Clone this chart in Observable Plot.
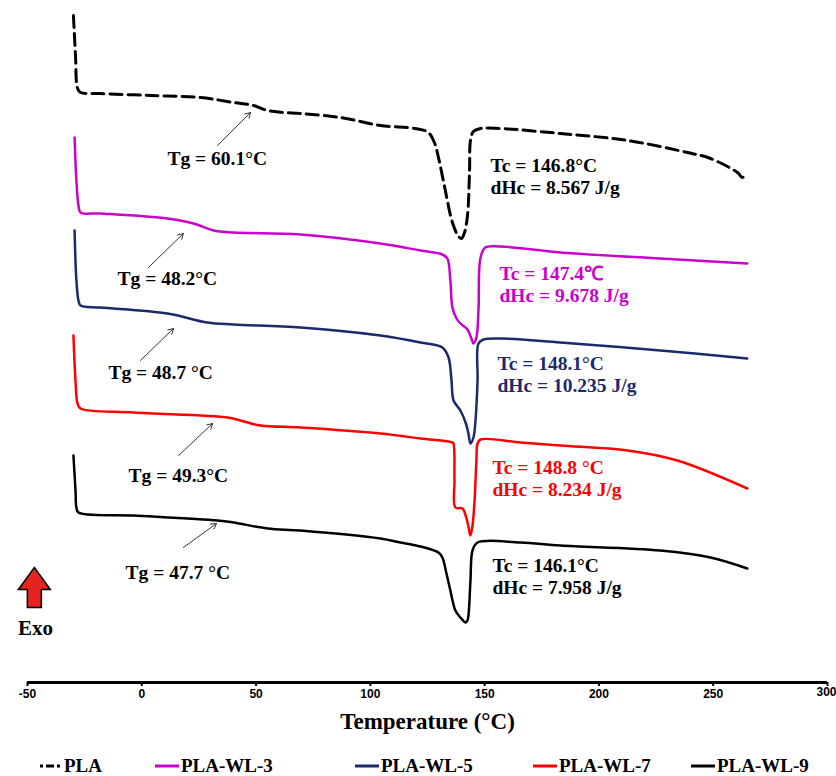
<!DOCTYPE html>
<html><head><meta charset="utf-8">
<script src="https://cdn.jsdelivr.net/npm/d3@7"></script>
<script src="https://cdn.jsdelivr.net/npm/@observablehq/plot@0.6"></script>
<style>
body{margin:0;background:#fff;}
#wrap{position:relative;width:836px;height:776px;overflow:hidden;background:#fff;}
#legend{position:absolute;top:756px;left:0;width:836px;height:20px;font:bold 19px "Liberation Serif",serif;color:#000;}
.item{position:absolute;top:0;display:flex;align-items:center;height:20px;white-space:nowrap;}
.item svg{display:block;margin-right:2px;}
</style></head>
<body><div id="wrap"><div id="chart"></div><div id="legend"></div></div>
<script>
// ---- data (Temperature °C, heat flow a.u.) ----
const seriesNames = ["PLA", "PLA-WL-3", "PLA-WL-5", "PLA-WL-7", "PLA-WL-9"];
const xTicks = [-50, 0, 50, 100, 150, 200, 250, 300];

const PLA = [[-29.9,66.7],[-29.0,62.7],[-28.1,59.4],[-26.8,59.0],[-18.1,58.9],[3.8,58.7],[25.7,58.5],[40.1,58.0],[48.9,57.7],[55.0,57.2],[62.0,57.0],[69.4,56.9],[86.9,56.5],[104.4,55.7],[119.7,55.4],[125.4,55.0],[128.0,54.0],[129.8,52.5],[132.8,49.2],[135.9,46.0],[138.6,44.6],[139.9,44.4],[141.2,45.0],[142.5,46.7],[143.4,51.2],[143.8,54.2],[145.1,55.1],[148.2,55.4],[156.9,55.4],[183.1,54.9],[212.5,54.2],[238.7,53.0],[248.8,52.4],[260.6,51.0],[262.8,50.5],[264.1,50.8],[265.0,50.9]];
const WL3 = [[-29.4,54.5],[-28.6,50.2],[-27.7,47.7],[-26.8,47.0],[-18.1,46.9],[11.2,46.4],[22.6,45.9],[31.4,45.2],[40.1,45.0],[69.4,44.8],[104.4,43.9],[121.9,43.2],[131.5,42.8],[133.7,42.4],[135.0,40.2],[135.9,37.5],[137.7,36.4],[139.4,35.9],[142.5,35.3],[144.2,34.4],[145.1,33.9],[146.4,34.5],[147.3,37.2],[148.2,42.5],[150.3,43.5],[156.9,43.6],[183.1,43.0],[226.9,42.4],[264.9,41.9]];
const WL5 = [[-29.4,45.2],[-28.6,40.2],[-27.7,38.2],[-26.8,37.7],[-18.1,37.5],[11.2,36.9],[28.7,36.0],[40.1,35.8],[69.4,35.5],[104.4,34.7],[121.9,34.0],[131.5,33.5],[134.2,32.5],[135.5,30.2],[136.4,28.2],[139.4,27.2],[141.8,25.9],[142.9,24.9],[143.8,23.9],[145.1,24.5],[146.0,26.2],[146.9,30.2],[147.3,33.9],[149.5,34.3],[156.9,34.4],[183.1,34.0],[226.9,33.2],[264.9,32.4]];
const WL7 = [[-29.9,34.7],[-29.0,30.2],[-28.1,27.9],[-26.8,27.4],[-3.6,27.0],[37.5,26.5],[43.2,26.2],[51.9,25.7],[69.4,25.5],[104.4,24.9],[121.9,24.4],[135.9,24.0],[136.4,23.9],[136.8,20.2],[137.2,17.5],[140.3,17.4],[141.7,16.7],[143.0,15.5],[143.8,14.7],[144.7,15.7],[145.6,18.2],[146.4,22.2],[146.9,23.9],[148.2,24.3],[165.7,24.0],[183.1,23.7],[212.5,23.2],[234.3,22.2],[264.9,19.4]];
const WL9 = [[-29.9,22.7],[-29.0,19.2],[-28.6,17.5],[-27.7,17.0],[-3.6,16.7],[33.1,16.2],[40.1,16.0],[55.0,15.4],[69.4,15.2],[104.4,14.4],[113.2,14.0],[121.9,13.6],[129.8,13.0],[131.5,12.5],[133.3,10.9],[135.0,9.2],[137.2,7.2],[139.4,6.5],[141.7,6.0],[142.5,6.2],[143.0,6.9],[143.8,10.2],[144.7,13.2],[146.9,14.0],[165.7,14.0],[183.1,13.7],[226.9,13.2],[248.8,12.5],[264.9,11.4]];

const tgValues = [60.1, 48.2, 48.7, 49.3, 47.7];
const tcValues = [146.8, 147.4, 148.1, 148.8, 146.1];
const dHcValues = [8.567, 9.678, 10.235, 8.234, 7.958];

// ---- styles & annotation placement (data space) ----
const seriesColors = ["#000000", "#CC00CC", "#1B2A6B", "#FF0000", "#000000"];
const tgUnit = ["°C", "°C", " °C", "°C", " °C"];
const tcUnit = ["°C", "℃", "°C", " °C", "°C"];
const tgLabelAt = [[11.2,52.4],[-10.6,40.4],[-14.6,31.0],[-5.8,20.7],[-7.1,11.0]];
const tgArrowAt = [[33.1,53.7,47.6,57.0],[2.9,41.5,18.2,44.9],[-0.6,32.2,13.9,35.4],[16.1,22.7,31.0,25.9],[18.2,13.5,32.7,15.9]];
const tcLabelAt = [[152.6,51.7],[156.5,40.9],[155.6,31.9],[153.4,21.5],[153.4,11.7]];
const lineGap = 2.2;

const allSeries = [PLA, WL3, WL5, WL7, WL9];

const serif = "'Liberation Serif','Times New Roman',serif";
const tickFont = "'Liberation Sans Narrow','Liberation Sans',sans-serif";

const tgRows = tgValues.map((v,i)=>({x: tgLabelAt[i][0], y: tgLabelAt[i][1], text: `Tg = ${v.toFixed(1)}${tgUnit[i]}`}));
const tgArrows = tgArrowAt.map(a=>({x1:a[0],y1:a[1],x2:a[2],y2:a[3]}));
const tcRows = [];
tcValues.forEach((v,i)=>{
  tcRows.push({x: tcLabelAt[i][0], y: tcLabelAt[i][1], text: `Tc = ${v.toFixed(1)}${tcUnit[i]}`, c: seriesColors[i]});
  tcRows.push({x: tcLabelAt[i][0], y: tcLabelAt[i][1]-lineGap, text: `dHc = ${dHcValues[i]} J/g`, c: seriesColors[i]});
});

const blockArrow = {
  draw(context, size){
    const r = Math.sqrt(size/Math.PI);
    context.moveTo(0,-r);
    context.lineTo(0.8*r,0.1*r);
    context.lineTo(0.35*r,0.1*r);
    context.lineTo(0.35*r,r);
    context.lineTo(-0.35*r,r);
    context.lineTo(-0.35*r,0.1*r);
    context.lineTo(-0.8*r,0.1*r);
    context.closePath();
  }
};

const lineMarks = allSeries.map((s,i)=>Plot.line(s, {
  x: d=>d[0], y: d=>d[1], stroke: seriesColors[i],
  strokeWidth: i===0 ? 3 : 2.5,
  strokeDasharray: i===0 ? "12,6" : null,
  curve: "catmull-rom"
}));

const lastTick = xTicks[xTicks.length - 1];

const chart = Plot.plot({
  width: 836, height: 750,
  marginLeft: 27, marginRight: 9, marginTop: 0, marginBottom: 68,
  x: {domain: [-50, 300]},
  y: {domain: [0, 68.2], axis: null},
  color: {type: "identity"},
  style: {fontFamily: tickFont, fontSize: "12px", color: "#000", background: "#fff", overflow: "visible"},
  marks: [
    Plot.axisX(xTicks, {tickSize: 4, tickPadding: 3, label: null, fontWeight: "bold", fontSize: 12, strokeWidth: 2, tickFormat: d => d === lastTick ? "" : String(d)}),
    Plot.text([lastTick], {x: d => d, frameAnchor: "bottom", dy: 13, dx: 9, textAnchor: "end", fill: "#000", fontFamily: tickFont, fontWeight: "bold", fontSize: 12}),
    Plot.ruleY([0], {stroke: "#000", strokeWidth: 3}),
    ...lineMarks,
    Plot.arrow(tgArrows, {x1:"x1", y1:"y1", x2:"x2", y2:"y2", stroke:"#333", strokeWidth: 1, headLength: 9}),
    Plot.text(tgRows, {x:"x", y:"y", text:"text", textAnchor:"start", fill:"#000", fontFamily: serif, fontWeight:"bold", fontSize: 19.5}),
    Plot.text(tcRows, {x:"x", y:"y", text:"text", textAnchor:"start", fill:"c", fontFamily: serif, fontWeight:"bold", fontSize: 19.5}),
    Plot.dot([{x:-47.0, y:9.5}], {x:"x", y:"y", r:20, symbol: blockArrow, fill:"#E52421", stroke:"#000", strokeWidth:1.5}),
    Plot.text([{x:-46.5, y:5.4, t:"Exo"}], {x:"x", y:"y", text:"t", fill:"#000", fontFamily: serif, fontWeight:"bold", fontSize: 21}),
    Plot.text(["Temperature (°C)"], {frameAnchor:"bottom", dy: 46, fill:"#000", fontFamily: serif, fontWeight:"bold", fontSize: 23})
  ]
});
document.getElementById("chart").appendChild(chart);

// ---- legend ----
const legendX = [40, 155, 355, 533, 691];
const legend = document.getElementById("legend");
seriesNames.forEach((name,i)=>{
  const item = document.createElement("div");
  item.className = "item";
  item.style.left = legendX[i] + "px";
  const w = i===0 ? 22 : 24;
  const dash = i===0 ? ' stroke-dasharray="3,3,8,3"' : '';
  item.innerHTML = `<svg width="${w}" height="20"><line x1="0" y1="10" x2="${w}" y2="10" stroke="${seriesColors[i]}" stroke-width="3"${dash}/></svg><span>${name}</span>`;
  legend.appendChild(item);
});
</script>
</body></html>
